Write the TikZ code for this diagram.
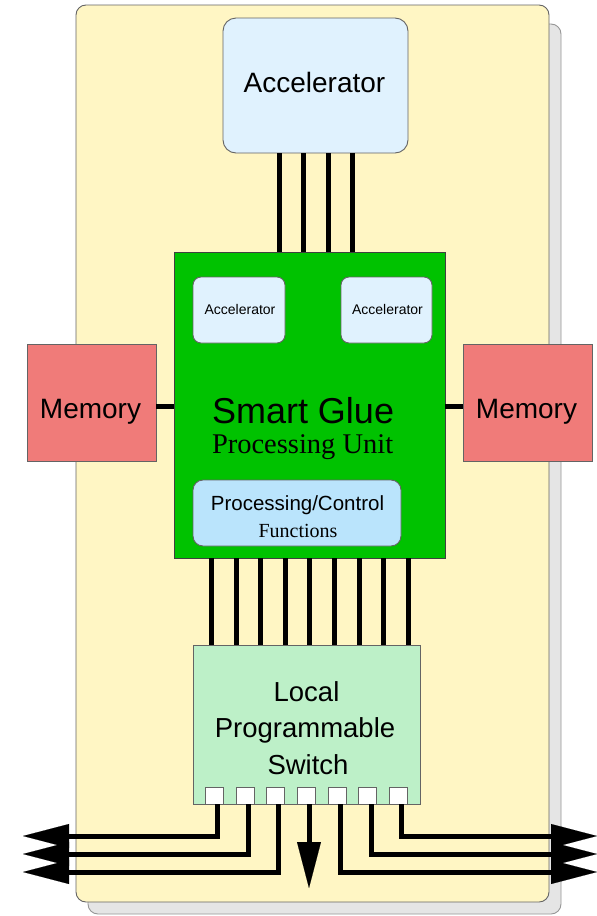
\documentclass[tikz,border=0pt]{standalone}
\usepackage{fontspec}
\setmainfont{Liberation Serif}
\setsansfont{Liberation Sans}
\usetikzlibrary{arrows.meta}
\definecolor{yellowbg}{RGB}{255,246,196}
\definecolor{shadowgray}{RGB}{229,229,229}
\definecolor{shadowedge}{RGB}{150,150,150}
\definecolor{gluegreen}{RGB}{0,194,0}
\definecolor{accfill}{RGB}{224,242,254}
\definecolor{pcfill}{RGB}{186,228,252}
\definecolor{memfill}{RGB}{240,123,121}
\definecolor{swfill}{RGB}{189,240,200}
\definecolor{bordergray}{RGB}{100,100,100}
\begin{document}
\begin{tikzpicture}[x=1pt,y=-1pt,
  box/.style={draw=bordergray, line width=0.9pt, inner sep=0pt, outer sep=0pt},
  txt/.style={inner sep=0pt, outer sep=0pt, anchor=base},
  bus/.style={line width=5pt, black},
  wire/.style={line width=5pt, black, line join=miter,
    -{Triangle[length=46pt,width=24pt,line width=0.1pt]}},
  portbox/.style={box, fill=white, minimum width=18, minimum height=17},
]
\useasboundingbox (0,0) rectangle (597,916);

% background panels
\draw[shadowedge, fill=shadowgray, line width=0.9pt, rounded corners=10pt] (88,24) rectangle (561,914);
\draw[bordergray, fill=yellowbg, line width=0.9pt, rounded corners=10pt] (76,5) rectangle (549,902);

% boxes
\node[box, fill=accfill, rounded corners=13pt, minimum width=185, minimum height=135] (acc) at (315.5,85.5) {};
\node[box, draw=black!75, fill=gluegreen, minimum width=271, minimum height=306] (glue) at (309.5,405) {};
\node[box, fill=accfill, rounded corners=8pt, minimum width=92, minimum height=66] (acc1) at (239,310) {};
\node[box, fill=accfill, rounded corners=8pt, minimum width=91, minimum height=66] (acc2) at (386.5,310) {};
\node[box, fill=pcfill, rounded corners=10pt, minimum width=208, minimum height=66] (pc) at (297,513) {};
\node[box, fill=memfill, minimum width=129, minimum height=117] (meml) at (91.5,402.5) {};
\node[box, fill=memfill, minimum width=129, minimum height=117] (memr) at (527.5,402.5) {};
\node[box, fill=swfill, minimum width=227, minimum height=159] (sw) at (306.5,724.5) {};

% ports
\node[portbox] (p1) at (214,795.5) {};
\node[portbox] (p2) at (245,795.5) {};
\node[portbox] (p3) at (275,795.5) {};
\node[portbox] (p4) at (306,795.5) {};
\node[portbox] (p5) at (337,795.5) {};
\node[portbox] (p6) at (367,795.5) {};
\node[portbox] (p7) at (398,795.5) {};

% texts
\node[txt, font=\sffamily\fontsize{28}{33}\selectfont] (acct) at (314.5,92) {Accelerator};
\node[txt, font=\sffamily\fontsize{14}{17}\selectfont] (acc1t) at (240,314) {Accelerator};
\node[txt, font=\sffamily\fontsize{14}{17}\selectfont] (acc2t) at (387.5,314) {Accelerator};
\node[txt, anchor=base west, font=\sffamily\fontsize{36}{40}\selectfont] (sgt) at (212,423) {Smart Glue};
\node[txt, anchor=base west, font=\rmfamily\fontsize{28.5}{33}\selectfont] (put) at (212,453) {Processing Unit};
\node[txt, font=\sffamily\fontsize{20.5}{24}\selectfont] (pct) at (297.5,510) {Processing/Control};
\node[txt, font=\rmfamily\fontsize{20}{24}\selectfont] (fnt) at (298,537) {Functions};
\node[txt, font=\sffamily\fontsize{28}{33}\selectfont] (memlt) at (90.5,418) {Memory};
\node[txt, font=\sffamily\fontsize{28}{33}\selectfont] (memrt) at (526.5,418) {Memory};
\node[txt, font=\sffamily\fontsize{27.5}{33}\selectfont] (swt1) at (306.5,701) {Local};
\node[txt, font=\sffamily\fontsize{27.5}{33}\selectfont] (swt2) at (305,737) {Programmable};
\node[txt, font=\sffamily\fontsize{27.5}{33}\selectfont] (swt3) at (308,774) {Switch};

% top bus accelerator -> glue
\foreach \xx in {279,303,328,352} {
  \coordinate (tb) at (\xx,0);
  \draw[bus] (acc.south -| tb) -- (glue.north -| tb);
}
% memory links
\coordinate (my) at (0,406);
\draw[bus] (meml.east |- my) -- (glue.west |- my);
\draw[bus] (glue.east |- my) -- (memr.west |- my);

% bottom bus glue -> switch
\foreach \xx in {211,236,260,285,309,334,359,383,408} {
  \coordinate (bb) at (\xx,0);
  \draw[bus] (glue.south -| bb) -- (sw.north -| bb);
}

% switch outputs
\coordinate (w1) at (217,836);
\coordinate (w2) at (248,854);
\coordinate (w3) at (278,872);
\coordinate (w4) at (309,888);
\coordinate (w5) at (340,872);
\coordinate (w6) at (371,854);
\coordinate (w7) at (401,836);
\coordinate (l1) at (23,836);
\coordinate (l2) at (23,854);
\coordinate (l3) at (23,872);
\coordinate (r1) at (597,836);
\coordinate (r2) at (597,854);
\coordinate (r3) at (597,872);

\draw[wire] (p1.south -| w1) -- (w1) -- (l1);
\draw[wire] (p2.south -| w2) -- (w2) -- (l2);
\draw[wire] (p3.south -| w3) -- (w3) -- (l3);
\draw[wire] (p4.south -| w4) -- (w4);
\draw[wire] (p5.south -| w5) -- (w5) -- (r3);
\draw[wire] (p6.south -| w6) -- (w6) -- (r2);
\draw[wire] (p7.south -| w7) -- (w7) -- (r1);
\end{tikzpicture}
\end{document}
